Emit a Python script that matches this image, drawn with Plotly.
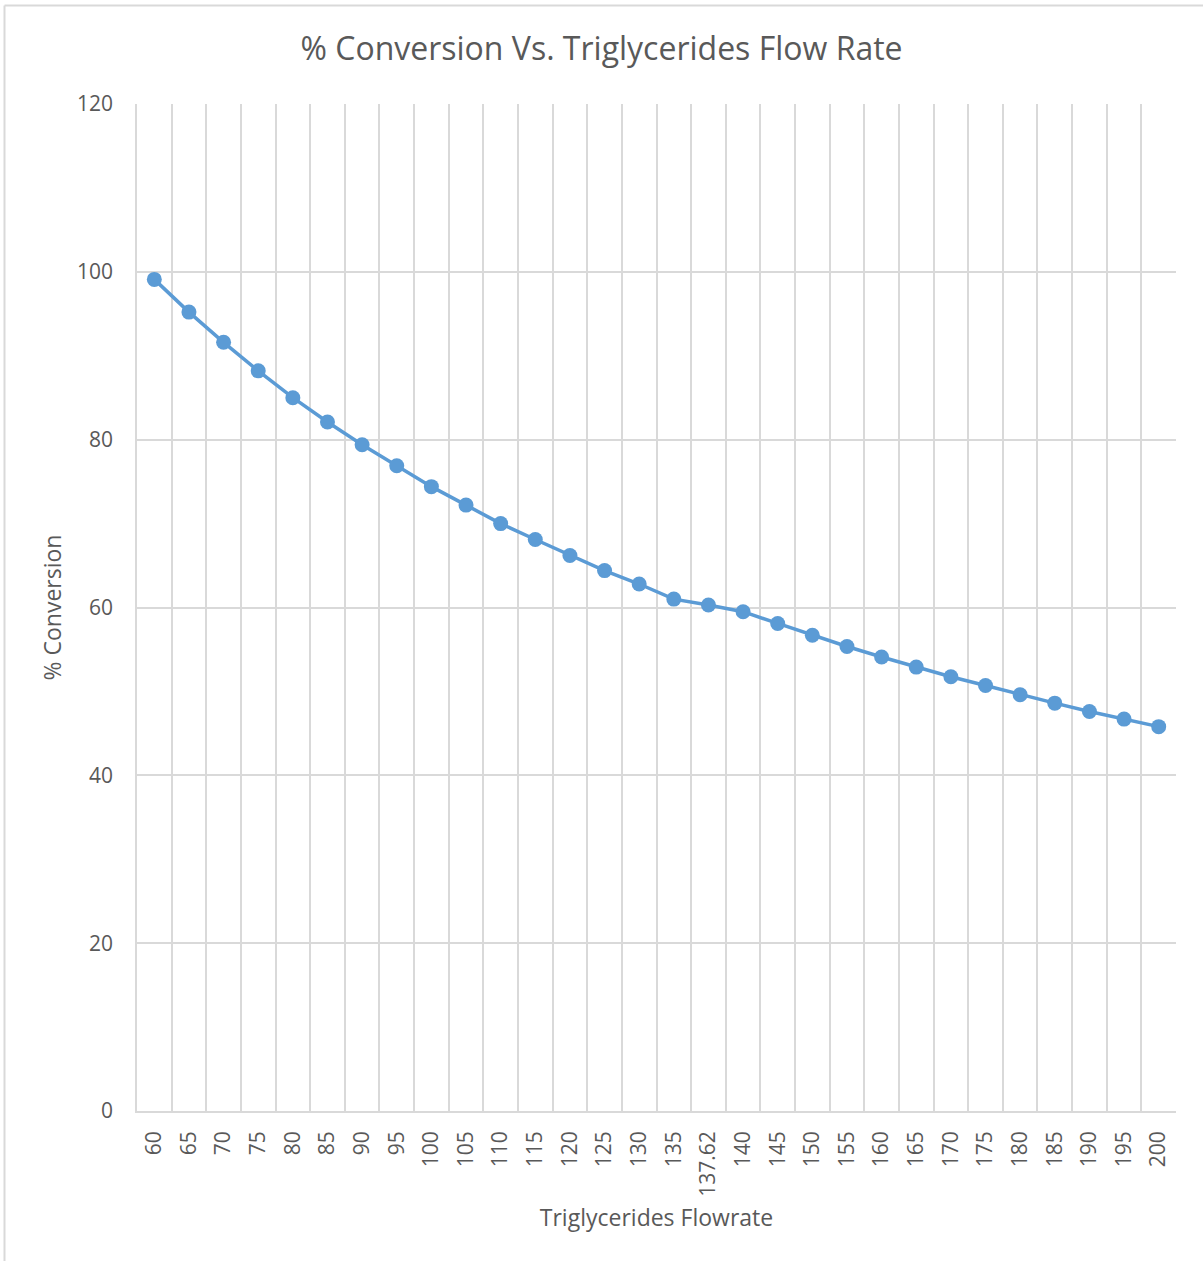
import plotly.graph_objects as go

flowrate = ["60", "65", "70", "75", "80", "85", "90", "95", "100", "105", "110", "115",
            "120", "125", "130", "135", "137.62", "140", "145", "150", "155", "160",
            "165", "170", "175", "180", "185", "190", "195", "200"]
conversion = [99.1, 95.2, 91.6, 88.2, 85.0, 82.1, 79.4, 76.9, 74.4, 72.2, 70.0, 68.1,
              66.2, 64.4, 62.8, 61.0, 60.3, 59.5, 58.1, 56.7, 55.35, 54.1,
              52.9, 51.75, 50.7, 49.6, 48.6, 47.6, 46.7, 45.8]
y_ticks = [0, 20, 40, 60, 80, 100, 120]

FONT = "Open Sans"
GRAY = "#595959"
GRID = "#d9d9d9"

W, H = 1203, 1261
L, R, T, B = 137, 27, 104, 150
pw, ph = W - L - R, H - T - B

def px(x):
    return (x - L) / pw

def py(y):
    return (H - B - y) / ph

fig = go.Figure()
fig.add_trace(go.Scatter(
    x=flowrate, y=conversion, mode="lines+markers",
    line=dict(color="#5B9BD5", width=3.5),
    marker=dict(color="#5B9BD5", size=15),
    showlegend=False,
))

fig.update_layout(
    width=W, height=H,
    margin=dict(l=L, r=R, t=T, b=B),
    paper_bgcolor="white", plot_bgcolor="white",
    font=dict(family=FONT, color=GRAY, size=21),
    title=dict(text="% Conversion Vs. Triglycerides Flow Rate",
               font=dict(family=FONT, size=32, color=GRAY),
               x=0.5, xanchor="center", y=1 - 49 / H, yanchor="middle"),
    xaxis=dict(
        type="category", range=[-0.5, len(flowrate) - 0.5],
        tickson="boundaries", showgrid=True, gridcolor=GRID, gridwidth=1.5,
        tickangle=-90, ticks="", ticklabelstandoff=10,
        showline=True, linecolor=GRID, linewidth=1.5,
        tickfont=dict(family=FONT, size=21, color=GRAY),
        title=dict(text="Triglycerides Flowrate", font=dict(family=FONT, size=23, color=GRAY),
                   standoff=14),
        zeroline=False,
    ),
    yaxis=dict(
        range=[0, 120], tickvals=y_ticks, showgrid=True, gridcolor=GRID, gridwidth=1.5,
        ticks="", ticklabelstandoff=18, zeroline=False,
        showline=True, linecolor=GRID, linewidth=1.5,
        tickfont=dict(family=FONT, size=21, color=GRAY),
        title=dict(text="% Conversion", font=dict(family=FONT, size=23, color=GRAY),
                   standoff=9),
    ),
    shapes=[
        dict(type="line", xref="paper", yref="paper", x0=px(4.5), x1=px(W + 5),
             y0=py(5.5), y1=py(5.5), line=dict(color=GRID, width=2)),
        dict(type="line", xref="paper", yref="paper", x0=px(4.5), x1=px(4.5),
             y0=py(5.5), y1=py(H + 5), line=dict(color=GRID, width=2)),
    ],
)

fig.write_html("out.html")
